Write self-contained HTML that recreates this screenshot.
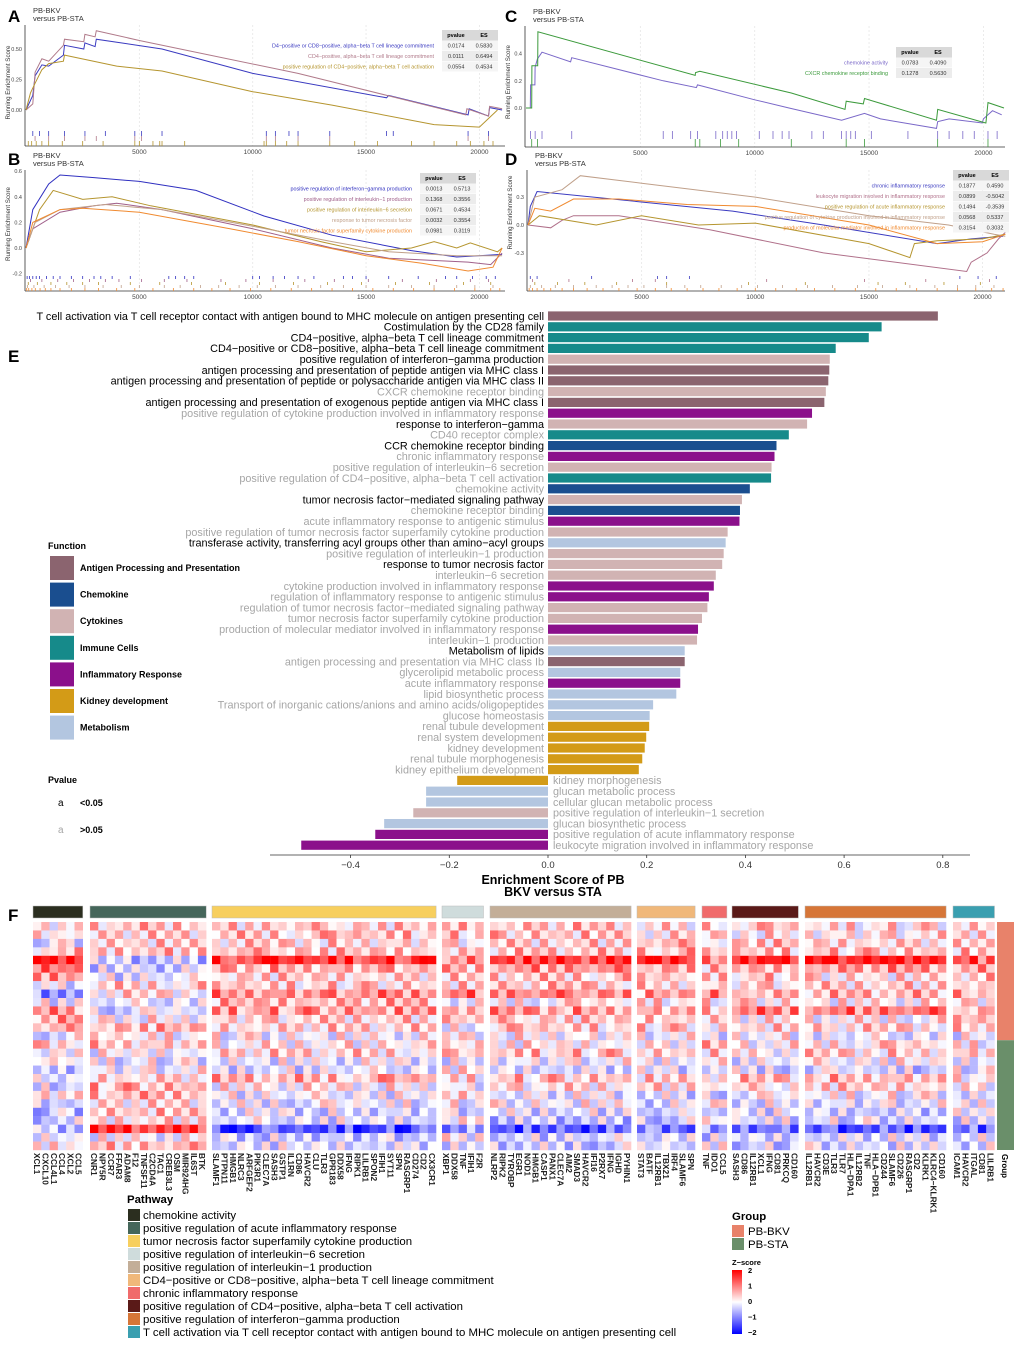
<!DOCTYPE html>
<html><head><meta charset="utf-8">
<style>
html,body{margin:0;padding:0;background:#fff;}
svg{display:block;font-family:"Liberation Sans",sans-serif;}
</style></head>
<body>
<svg id="fig" width="1020" height="1345" viewBox="0 0 1020 1345" xmlns="http://www.w3.org/2000/svg">
<defs>
<linearGradient id="zgrad" x1="0" y1="1" x2="0" y2="0">
<stop offset="0" stop-color="#0000ff"/><stop offset="0.5" stop-color="#ffffff"/><stop offset="1" stop-color="#ff0000"/>
</linearGradient>
</defs>
</svg>
<script>
// ---------- Panel E data ----------
const termLabels = ["T cell activation via T cell receptor contact with antigen bound to MHC molecule on antigen presenting cell","Costimulation by the CD28 family","CD4\u2212positive, alpha\u2212beta T cell lineage commitment","CD4\u2212positive or CD8\u2212positive, alpha\u2212beta T cell lineage commitment","positive regulation of interferon\u2212gamma production","antigen processing and presentation of peptide antigen via MHC class I","antigen processing and presentation of peptide or polysaccharide antigen via MHC class II","CXCR chemokine receptor binding","antigen processing and presentation of exogenous peptide antigen via MHC class I","positive regulation of cytokine production involved in inflammatory response","response to interferon\u2212gamma","CD40 receptor complex","CCR chemokine receptor binding","chronic inflammatory response","positive regulation of interleukin\u22126 secretion","positive regulation of CD4\u2212positive, alpha\u2212beta T cell activation","chemokine activity","tumor necrosis factor\u2212mediated signaling pathway","chemokine receptor binding","acute inflammatory response to antigenic stimulus","positive regulation of tumor necrosis factor superfamily cytokine production","transferase activity, transferring acyl groups other than amino\u2212acyl groups","positive regulation of interleukin\u22121 production","response to tumor necrosis factor","interleukin\u22126 secretion","cytokine production involved in inflammatory response","regulation of inflammatory response to antigenic stimulus","regulation of tumor necrosis factor\u2212mediated signaling pathway","tumor necrosis factor superfamily cytokine production","production of molecular mediator involved in inflammatory response","interleukin\u22121 production","Metabolism of lipids","antigen processing and presentation via MHC class Ib","glycerolipid metabolic process","acute inflammatory response","lipid biosynthetic process","Transport of inorganic cations/anions and amino acids/oligopeptides","glucose homeostasis","renal tubule development","renal system development","kidney development","renal tubule morphogenesis","kidney epithelium development","kidney morphogenesis","glucan metabolic process","cellular glucan metabolic process","positive regulation of interleukin\u22121 secretion","glucan biosynthetic process","positive regulation of acute inflammatory response","leukocyte migration involved in inflammatory response"];
const termES = [0.79,0.676,0.65,0.583,0.571,0.57,0.568,0.563,0.56,0.535,0.525,0.488,0.463,0.459,0.453,0.452,0.409,0.393,0.389,0.388,0.364,0.36,0.356,0.353,0.34,0.336,0.326,0.323,0.312,0.304,0.302,0.277,0.277,0.268,0.268,0.26,0.213,0.206,0.205,0.199,0.196,0.191,0.184,-0.184,-0.247,-0.247,-0.273,-0.332,-0.35,-0.5];
const termFunc = [0,3,3,3,2,0,0,2,0,4,2,3,1,4,2,3,1,2,1,4,2,6,2,2,2,4,4,2,2,4,2,6,0,6,4,6,6,6,5,5,5,5,5,5,6,6,2,6,4,4];
const termSig = [1,1,1,1,1,1,1,0,1,0,1,0,1,0,0,0,0,1,0,0,0,1,0,1,0,0,0,0,0,0,0,1,0,0,0,0,0,0,0,0,0,0,0,0,0,0,0,0,0,0];
const funcNames = ["Antigen Processing and Presentation","Chemokine","Cytokines","Immune Cells","Inflammatory Response","Kidney development","Metabolism"];
const funcColors = ["#8b646f","#1a4e8f","#d1b3b3","#168a8a","#8b108b","#d39b17","#b3c6e0"];
const esTicks = [-0.4,-0.2,0.0,0.2,0.4,0.6,0.8];

// ---------- Panel F data ----------
const pathNames = ["chemokine activity","positive regulation of acute inflammatory response","tumor necrosis factor superfamily cytokine production","positive regulation of interleukin\u22126 secretion","positive regulation of interleukin\u22121 production","CD4\u2212positive or CD8\u2212positive, alpha\u2212beta T cell lineage commitment","chronic inflammatory response","positive regulation of CD4\u2212positive, alpha\u2212beta T cell activation","positive regulation of interferon\u2212gamma production","T cell activation via T cell receptor contact with antigen bound to MHC molecule on antigen presenting cell"];
const pathColors = ["#2b2e1f","#45665a","#f7cf5e","#cfdcdc","#c3ae98","#f0b87a","#f06b6b","#5a1a18","#d67638","#3a9fb0"];
const geneGroups = [
 ["XCL1","CXCL10","CCL4L1","CCL4","XCL2","CCL5"],
 ["CNR1","NPY5R","CCR7","FFAR3","ADAM8","F12","TNFSF11","C2CD4A","TAC1","CREB3L3","OSM","MIR924HG","IL6ST","BTK"],
 ["SLAMF1","PTPN11","HMGB1","NLRC3","ARFGEF2","PIK3R1","CLEC7A","SASH3","GSTP1","IL1RN","CD86","HAVCR2","CLU","TLR3","GPR183","DDX58","IFNG","RIPK1","LILRB1","SPON2","IFIH1","SYT11","SPN","RASGRP1","CD274","CD2","CX3CR1"],
 ["XBP1","DDX58","TNF","IFIH1","F2R"],
 ["NLRP2","RIPK2","TYROBP","EGR1","NOD1","HMGB1","CASP1","PANX1","CLEC7A","AIM2","SMAD3","HAVCR2","IFI16","P2RX7","IFNG","IGHD","PYHIN1"],
 ["STAT3","BATF","IL12RB1","TBX21","IRF4","SLAMF6","SPN"],
 ["TNF","IDO1","CCL5"],
 ["SASH3","CD86","IL12RB1","XCL1","IFNG","CD81","PRKCQ","CD160"],
 ["IL12RB1","HAVCR2","CD3E","TLR3","TLR7","HLA\u2212DPA1","IL12RB2","TNF","HLA\u2212DPB1","CD244","SLAMF6","CD226","RASGRP1","CD2","KLRK1","KLRC4\u2212KLRK1","CD160"],
 ["ICAM1","HAVCR2","ITGAL","CD81","LILRB1"]];
const rowGroupZ = [
 [.1,.3,.2,.4,.3,.1,.3,.2,.1,.2],[.1,.2,.3,.3,.3,.1,.1,.1,.1,.2],[-.2,.2,.2,.1,.2,.3,.1,.3,.2,.1],
 [.3,.3,.3,.2,.3,.4,.2,.3,.3,.3],[1.6,-.5,1.3,.8,1.3,1.6,.6,1.6,1.6,1.0],[.9,-.4,.5,.4,.6,.5,.3,.4,.6,.5],
 [.7,-.3,.2,.2,.3,.2,.2,.3,.1,.3],[-.2,.2,.2,.2,.3,.2,.1,.2,.2,.2],[-1.0,.1,.7,.8,.7,.5,.8,.4,.4,.6],
 [-.2,-.3,.4,-.2,0,.1,.1,.1,0,.1],[.6,-.3,.6,.6,.6,.5,.4,.8,.8,.4],[.5,0,.2,.3,.2,.3,.2,0,0,.3],
 [.3,.4,.2,0,.2,.2,0,.2,.2,.2],[-.2,0,-.1,0,0,-.1,-.2,-.1,-.3,-.2],[.3,.3,0,.2,0,0,.3,0,.1,0],
 [-.1,-.1,.2,.1,.3,.2,.2,0,.2,.3],[0,-.2,-.2,-.2,-.1,-.1,-.1,-.2,-.1,-.2],[-.4,-.1,-.3,0,-.3,-.3,-.2,-.3,-.4,-.2],
 [-.4,.2,.4,.1,.3,.2,.2,.3,.4,.1],[-.3,.4,0,-.1,.1,.1,.1,0,.2,0],[.2,.4,-.2,.2,-.2,-.3,-.3,-.2,-.1,-.3],
 [-.4,.1,-.2,-.1,-.1,-.3,0,-.2,-.2,-.1],[-.5,.3,-.3,-.3,-.3,-.5,-.3,-.3,-.4,-.3],[-.4,.1,-.3,0,-.5,-.4,-.1,-.3,-.3,-.3],
 [-.5,1.3,-1.4,-.8,-1.3,-1.0,-1.0,-1.0,-1.3,-1.2],[-.2,-.1,-.4,-.1,-.4,-.3,-.4,-.4,-.3,-.3],[.1,.3,-.3,-.4,-.4,-.4,-.2,-.4,-.3,-.3]];
const cellTexture = "46372518462935174283615942738164537291846372519483627154938261745392816473529183647251938462751394862735149628374165927384615293748162539471";
const sampleGroups = ["PB-BKV","PB-STA"];
const sampleGroupRows = [14,13];

// ---------- GSEA data ----------
const gA = {ranks:[[0,300,400,700,1000,1650,1700,2550,2600,3050,3100,6000,10000,15900,16000,19500,19550,20400,20450,21000],[0,300,400,700,1000,1650,1700,2550,2600,3050,3100,5000,12000,19400,19450,20400,20450,21000],[0,200,400,700,1000,1650,1700,4000,6000,10000,13500,18000,20000,20800]],
 es:[[0,0.12,0.28,0.37,0.36,0.45,0.53,0.5,0.55,0.52,0.58,0.5,0.3,0.1,0.12,-0.04,0.01,-0.05,0.02,0.0],[0,0.05,0.31,0.42,0.4,0.53,0.58,0.56,0.62,0.6,0.65,0.57,0.3,-0.04,0.01,-0.05,0.03,0.01],[0,0.14,0.22,0.33,0.38,0.4,0.45,0.36,0.32,0.15,0.04,-0.12,-0.14,0.0]],
 hits:[[300,600,1000,1700,2600,3500,4800,5100,6000,10600,11000,11600,12000,13400,15900,16200,19500,20400],[400,1000,1700,2600,3100,4800,5100,10600,11000,12000,13400,19500,20400],[100,250,450,700,1000,1600,2500,3400,4800,5000,5600,5900,6000,7000,10500,10600,11000,11500,12000,13400,14500,15500,17000,18000,19000,19600,20200,20600]]};
const gB = {ranks:[[0,300,1000,1500,3000,5000,7500,10500,13500,17000,19000,21000],[0,300,1500,3000,4000,6000,10000,13500,16000,19500,20500,21000],[0,600,1200,2500,3800,5500,10000,13000,15000,17000,18000,19000,19600,20800,21000],[0,400,1500,3500,6000,10000,13500,16000,19000,21000],[0,300,1500,2500,5000,9000,12000,15000,17500,19500,20600,21000]],
 es:[[0,0.3,0.5,0.57,0.55,0.52,0.45,0.25,0.1,-0.02,-0.07,-0.05],[0,0.15,0.28,0.33,0.35,0.3,0.15,0,-0.08,-0.11,-0.13,-0.04],[0,0.3,0.45,0.38,0.4,0.33,0.18,0.05,-0.03,0,0.05,0,0.04,-0.03,0],[0,0.2,0.3,0.34,0.3,0.17,0.05,-0.03,-0.06,-0.06],[0,0.2,0.3,0.31,0.28,0.15,0.05,-0.06,-0.12,-0.18,-0.15,0]],
 hits:[[50,150,300,450,600,900,1200,1500,2000,2500,3000,3300,3800,4600,6300,6600,7000,7400,10000,10300,10900,11400,12000,12700,14000,14400,15000,16000,17300,18500,19000,19700,20300,20700],[200,700,1400,2100,2800,3500,4100,5100,6100,7100,8600,9700,10900,12300,13600,15100,16600,18100,19600,20400],[100,500,1100,1800,2500,3200,4600,5900,7300,8800,10300,11800,13300,14800,16300,17800,19300,20500],[60,350,800,1300,1900,2600,3400,4200,5000,6100,6800,7700,8500,9400,10200,11000,12000,13000,14000,15000,16000,17000,18000,19000,19800,20600],[30,120,260,410,620,850,1100,1500,2000,2600,3200,4000,4800,5600,6500,7400,8200,9000,9900,10800,11700,12600,13500,14400,15300,16200,17100,18000,18900,19800,20500,20900]]};
const gC = {ranks:[[0,190,200,300,390,400,500,700,1950,2000,6000,7450,7500,10000,11500,13800,14800,15500,17950,18000,18500,19950,20000,20200,20400,20800],[0,250,260,500,510,520,7400,7410,7600,11600,13950,14000,14750,14800,17950,18000,20100,20110,20200,20900]],
 es:[[0,0,0.17,0.17,0.17,0.3,0.36,0.41,0.34,0.37,0.2,0.15,0.17,0.06,0,-0.09,-0.04,-0.08,-0.15,-0.1,-0.08,-0.11,-0.08,-0.05,-0.02,-0.05],[0,0,0.31,0.31,0.31,0.56,0.24,0.26,0.27,0.11,-0.01,0.05,0.03,0.07,-0.09,-0.01,-0.11,-0.11,0.04,0.0]],
 hits:[[200,400,700,2000,6000,6400,7200,7500,8300,8600,8800,9000,9200,10200,10800,11200,11500,12500,13000,13800,14000,14200,14400,15100,16700,18000,18500,19100,19600,20200,20600],[250,500,7400,7600,8500,9300,11600,14000,14800,18000,20200]]};
const gD = {ranks:[[0,100,400,9000,13000,18000,19500,20900],[0,1000,1500,2000,4000,8000,13000,19300,19500,20200,20700,21000],[0,500,3000,5000,7500,10000,15000,16800,17000,18000,20000,21000],[0,300,1500,2300,5000,10000,15000,18500,20500,21000],[0,300,1000,2000,4000,7000,10000,15000,18000,20000,21000]],
 es:[[0,0.2,0.36,0.15,0,-0.2,-0.15,-0.12],[0,-0.03,0.05,0.1,0.1,-0.05,-0.3,-0.5,-0.4,-0.3,-0.15,-0.08],[0,0.1,0,0.1,0,0.02,-0.2,-0.35,-0.2,-0.17,-0.15,-0.1],[0,0.3,0.38,0.53,0.45,0.3,0.1,0,-0.1,-0.12],[0,0.18,0.15,0.28,0.28,0.22,0.2,0,-0.2,-0.18,-0.1]],
 hits:[[100,400,2800,5700,6100,7100,19000,19800,20600],[200,1800,4600,5600,10500,14800,17500,20300],[300,1300,2500,3900,6100,9700,12200,15400,16600,18300,19900],[100,600,1200,2000,3000,3700,4400,5100,6100,6900,7600,8500,9400,10100,11200,12300,13400,14500,15600,16800,17900,18900,19700,20500],[50,200,400,700,1000,1500,2000,2600,3300,4000,4800,5600,6300,7000,7700,8400,9200,10000,10900,11800,12600,13500,14400,15300,16200,17100,18000,18900,19700,20400,20900]]};

// ---------- helpers ----------
const NS = "http://www.w3.org/2000/svg";
const svg = document.getElementById("fig");
function mk(tag, attrs, parent) {
  const e = document.createElementNS(NS, tag);
  for (const k in attrs) e.setAttribute(k, attrs[k]);
  (parent || svg).appendChild(e);
  return e;
}
function nm(e, name, inter) {
  
  
  return e;
}
function txt(x, y, s, attrs, parent) {
  const e = mk("text", Object.assign({x: x, y: y}, attrs || {}), parent);
  e.textContent = s;
  return e;
}

// ---------- panel letters ----------
[["A",8,22],["B",8,165],["C",505,22],["D",505,165],["E",8,362],["F",8,921]].forEach(p => {
  const t = txt(p[1], p[2], p[0], {"font-size": 17, "font-weight": "bold"});
  nm(t, "panel-label-" + p[0].toLowerCase(), false);
});

// ---------- GSEA panels ----------
function gsea(id, cfg, data) {
  const g = nm(mk("g", {}), "gsea-panel-" + id, false);
  const X = r => cfg.x0 + r * cfg.kx;
  const Y = v => cfg.y0 - v * cfg.ky;
  nm(txt(cfg.left + 8, cfg.top - 12, "PB-BKV", {"font-size": 7.5, fill: "#333"}, g), "panel-subtitle", false);
  nm(txt(cfg.left + 8, cfg.top - 4, "versus PB-STA", {"font-size": 7.5, fill: "#333"}, g), "panel-subtitle", false);
  [5000, 10000, 15000, 20000].forEach(t => {
    nm(mk("line", {x1: X(t), x2: X(t), y1: cfg.top, y2: cfg.bottom, stroke: "#e6e6e6", "stroke-width": 0.8, "stroke-dasharray": "2,2"}, g), "x-gridline", false);
    nm(txt(X(t), cfg.bottom + 8, String(t), {"font-size": 6.5, "text-anchor": "middle", fill: "#444"}, g), "x-tick-label", false);
  });
  nm(mk("line", {x1: cfg.left, x2: cfg.left, y1: cfg.top, y2: cfg.bottom, stroke: "#333", "stroke-width": 0.8}, g), "y-axis-line", false);
  nm(mk("line", {x1: cfg.left, x2: cfg.right, y1: cfg.bottom, y2: cfg.bottom, stroke: "#333", "stroke-width": 0.8}, g), "x-axis-line", false);
  cfg.yticks.forEach(t => {
    nm(txt(cfg.left - 3, Y(t) + 2, t.toFixed(cfg.dec), {"font-size": 5.5, "text-anchor": "end", fill: "#444"}, g), "y-tick-label", false);
  });
  const yl = txt(0, 0, "Running Enrichment Score", {"font-size": 6.2, "text-anchor": "middle", fill: "#333", transform: "translate(" + (cfg.left - 15) + "," + ((cfg.top + cfg.y0 + 30) / 2) + ") rotate(-90)"}, g);
  nm(yl, "y-axis-title", false);
  data.ranks.forEach((rs, i) => {
    let d = "";
    rs.forEach((r, j) => {
      d += (j ? "L" : "M") + X(r).toFixed(1) + "," + Y(data.es[i][j]).toFixed(1);
    });
    nm(mk("path", {d: d, fill: "none", stroke: cfg.colors[i], "stroke-width": 1}, g), "es-line-" + (i + 1), false);
  });
  const n = data.hits.length;
  const rh = (cfg.bottom - cfg.rugTop) / n;
  data.hits.forEach((hs, i) => {
    hs.forEach(h => {
      nm(mk("line", {x1: X(h), x2: X(h), y1: cfg.rugTop + i * rh, y2: cfg.rugTop + (i + 1) * rh, stroke: cfg.colors[i], "stroke-width": 0.8}, g), "hit-tick", false);
    });
  });
  const tx = cfg.tableX, lh = cfg.lh;
  nm(mk("rect", {x: tx, y: cfg.tableY - 7, width: 56, height: lh, fill: "#d9d9d9"}, g), "table-header", false);
  nm(txt(tx + 14, cfg.tableY, "pvalue", {"font-size": 5.5, "font-weight": "bold", "text-anchor": "middle"}, g), "table-header-pvalue", false);
  nm(txt(tx + 42, cfg.tableY, "ES", {"font-size": 5.5, "font-weight": "bold", "text-anchor": "middle"}, g), "table-header-es", false);
  cfg.names.forEach((s, i) => {
    const yy = cfg.tableY + (i + 1) * lh;
    nm(mk("rect", {x: tx, y: yy - 7, width: 56, height: lh - 0.5, fill: i % 2 ? "#ececec" : "#f5f5f5"}, g), "table-row", false);
    nm(txt(tx + 14, yy, cfg.pv[i], {"font-size": 5.5, "text-anchor": "middle", fill: "#333"}, g), "table-pvalue", false);
    nm(txt(tx + 42, yy, cfg.esv[i], {"font-size": 5.5, "text-anchor": "middle", fill: "#333"}, g), "table-es", false);
    nm(txt(tx - 8, yy, s, {"font-size": 5.4, "text-anchor": "end", fill: cfg.colors[i]}, g), "series-legend-label", false);
  });
}
gsea("a", {x0: 26, kx: 0.02267, y0: 110, ky: 122, left: 25, right: 505, top: 25, bottom: 146, rugTop: 131, yticks: [0, 0.25, 0.5], dec: 2,
  colors: ["#3a3ac0", "#b07a8a", "#b5952f"], tableX: 442, tableY: 37, lh: 10.5,
  names: ["D4\u2212positive or CD8\u2212positive, alpha\u2212beta T cell lineage commitment", "CD4\u2212positive, alpha\u2212beta T cell lineage commitment", "positive regulation of CD4\u2212positive, alpha\u2212beta T cell activation"],
  pv: ["0.0174", "0.0111", "0.0554"], esv: ["0.5830", "0.6494", "0.4534"]}, gA);
gsea("b", {x0: 26, kx: 0.02267, y0: 248, ky: 128, left: 25, right: 505, top: 170, bottom: 291, rugTop: 276, yticks: [-0.2, 0, 0.2, 0.4, 0.6], dec: 1,
  colors: ["#3030c0", "#a0608a", "#b5952f", "#c0a08a", "#f08a30"], tableX: 420, tableY: 180, lh: 10.5,
  names: ["positive regulation of interferon\u2212gamma production", "positive regulation of interleukin\u22121 production", "positive regulation of interleukin\u22126 secretion", "response to tumor necrosis factor", "tumor necrosis factor superfamily cytokine production"],
  pv: ["0.0013", "0.1368", "0.0671", "0.0032", "0.0981"], esv: ["0.5713", "0.3556", "0.4534", "0.3554", "0.3119"]}, gB);
gsea("c", {x0: 526, kx: 0.02287, y0: 108, ky: 136, left: 525, right: 1005, top: 26, bottom: 147, rugTop: 131, yticks: [0, 0.2, 0.4], dec: 1,
  colors: ["#7a68c8", "#3c9a3c"], tableX: 896, tableY: 54, lh: 10.5,
  names: ["chemokine activity", "CXCR chemokine receptor binding"],
  pv: ["0.0783", "0.1278"], esv: ["0.4090", "0.5630"]}, gC);
gsea("d", {x0: 528, kx: 0.02273, y0: 225, ky: 93, left: 527, right: 1005, top: 170, bottom: 291, rugTop: 276, yticks: [-0.3, 0, 0.3], dec: 1,
  colors: ["#3a3ac0", "#b0708a", "#b5952f", "#c0a08a", "#f08a30"], tableX: 953, tableY: 177, lh: 10.5,
  names: ["chronic inflammatory response", "leukocyte migration involved in inflammatory response", "positive regulation of acute inflammatory response", "positive regulation of cytokine production involved in inflammatory response", "production of molecular mediator involved in inflammatory response"],
  pv: ["0.1877", "0.0899", "0.1494", "0.0568", "0.3154"], esv: ["0.4590", "-0.5042", "-0.3539", "0.5337", "0.3032"]}, gD);

// ---------- Panel E ----------
(function () {
  const g = nm(mk("g", {}), "enrichment-bar-chart", false);
  const X = v => 548 + v * 493.5;
  const rowY = i => 316 + i * 10.8;
  termLabels.forEach((lab, i) => {
    const v = termES[i];
    const x0 = Math.min(X(0), X(v)), w = Math.abs(X(v) - X(0));
    nm(mk("rect", {x: x0, y: rowY(i) - 4.6, width: w, height: 9.2, fill: funcColors[termFunc[i]]}, g), "bar-" + (i + 1), false);
    const pos = v >= 0;
    nm(txt(pos ? 544 : 553, rowY(i) + 3.8, lab, {"font-size": 10.85, "text-anchor": pos ? "end" : "start", fill: termSig[i] ? "#000" : "#a6a6a6"}, g), "term-label", false);
  });
  nm(mk("line", {x1: 270, x2: 970, y1: 855, y2: 855, stroke: "#333", "stroke-width": 0.8}, g), "x-axis-line", false);
  esTicks.forEach(t => {
    nm(mk("line", {x1: X(t), x2: X(t), y1: 855, y2: 858, stroke: "#333", "stroke-width": 0.8}, g), "x-tick", false);
    nm(txt(X(t), 868, (t < 0 ? "\u2212" + Math.abs(t).toFixed(1) : t.toFixed(1)), {"font-size": 9.5, "text-anchor": "middle", fill: "#333"}, g), "x-tick-label", false);
  });
  nm(txt(553, 884, "Enrichment Score of PB", {"font-size": 12.5, "font-weight": "bold", "text-anchor": "middle"}, g), "x-axis-title", false);
  nm(txt(553, 896, "BKV versus STA", {"font-size": 12.5, "font-weight": "bold", "text-anchor": "middle"}, g), "x-axis-title-line2", false);
  const lg = nm(mk("g", {}), "function-legend", false);
  nm(txt(48, 549, "Function", {"font-size": 9, "font-weight": "bold"}, lg), "legend-title", false);
  funcNames.forEach((f, i) => {
    const y = 556 + i * 26.6;
    nm(mk("rect", {x: 50, y: y, width: 24, height: 24, fill: funcColors[i]}, lg), "legend-swatch", false);
    nm(txt(80, y + 15, f, {"font-size": 9, "font-weight": "bold"}, lg), "legend-entry", false);
  });
  nm(txt(48, 783, "Pvalue", {"font-size": 9, "font-weight": "bold"}, lg), "pvalue-legend-title", false);
  nm(txt(58, 806, "a", {"font-size": 10}, lg), "pvalue-key-sig", false);
  nm(txt(80, 806, "<0.05", {"font-size": 9, "font-weight": "bold"}, lg), "pvalue-label-sig", false);
  nm(txt(58, 833, "a", {"font-size": 10, fill: "#a6a6a6"}, lg), "pvalue-key-nonsig", false);
  nm(txt(80, 833, ">0.05", {"font-size": 9, "font-weight": "bold"}, lg), "pvalue-label-nonsig", false);
})();

// ---------- Panel F heatmap ----------
(function () {
  const g = nm(mk("g", {}), "heatmap", false);
  const groupStart = [33, 90, 212, 442, 490, 637, 702, 732, 805, 953];
  const cw = 8.3, top = 922, nRows = 27, rh = 228 / nRows;
  function zcol(z) {
    z = Math.max(-2, Math.min(2, z));
    const t = Math.abs(z) / 2;
    const c = Math.round(255 * (1 - t));
    return z >= 0 ? "rgb(255," + c + "," + c + ")" : "rgb(" + c + "," + c + ",255)";
  }
  let colIdx = 0;
  geneGroups.forEach((genes, gi) => {
    const x0 = groupStart[gi];
    nm(mk("rect", {x: x0, y: 906, width: genes.length * cw, height: 12, fill: pathColors[gi], stroke: "#bbb", "stroke-width": 0.5}, g), "pathway-annotation-" + (gi + 1), false);
    genes.forEach((gene, ci) => {
      const x = x0 + ci * cw;
      for (let r = 0; r < nRows; r++) {
        const d = +cellTexture[(colIdx * 3 + r * 7) % cellTexture.length];
        const z = rowGroupZ[r][gi] * 1.1 + (d - 4) * 0.17;
        const c = mk("rect", {x: x.toFixed(2), y: (top + r * rh).toFixed(2), width: cw + 0.2, height: rh + 0.2, fill: zcol(z)}, g);
        
        
      }
      const t = txt(0, 0, gene, {"font-size": 8.3, "font-weight": "bold", fill: "#222", transform: "translate(" + (x + cw / 2 - 3) + ",1153) rotate(90)"}, g);
      nm(t, "gene-label", false);
      colIdx++;
    });
  });
  let yy = top;
  sampleGroups.forEach((s, i) => {
    const h = sampleGroupRows[i] * rh;
    nm(mk("rect", {x: 997, y: yy, width: 17, height: h, fill: i ? "#6a8f6a" : "#e8826a"}, g), "group-annotation-" + s.toLowerCase(), false);
    yy += h;
  });
  nm(txt(0, 0, "Group", {"font-size": 8, "font-weight": "bold", transform: "translate(1002,1154) rotate(90)"}, g), "group-annotation-label", false);

  const pl = nm(mk("g", {}), "pathway-legend", false);
  nm(txt(127, 1203, "Pathway", {"font-size": 11.4, "font-weight": "bold"}, pl), "legend-title", false);
  pathNames.forEach((p, i) => {
    const y = 1209 + i * 13;
    nm(mk("rect", {x: 128, y: y, width: 12, height: 12, fill: pathColors[i]}, pl), "legend-swatch", false);
    nm(txt(143, y + 10, p, {"font-size": 11.4}, pl), "legend-entry", false);
  });
  const gl = nm(mk("g", {}), "group-legend", false);
  nm(txt(732, 1220, "Group", {"font-size": 11.4, "font-weight": "bold"}, gl), "legend-title", false);
  sampleGroups.forEach((s, i) => {
    nm(mk("rect", {x: 732, y: 1225 + i * 13, width: 12, height: 12, fill: i ? "#6a8f6a" : "#e8826a"}, gl), "legend-swatch", false);
    nm(txt(748, 1235 + i * 13, s, {"font-size": 11.4}, gl), "legend-entry", false);
  });
  const zl = nm(mk("g", {}), "zscore-legend", false);
  nm(txt(732, 1265, "Z\u2212score", {"font-size": 7.5, "font-weight": "bold"}, zl), "legend-title", false);
  nm(mk("rect", {x: 732, y: 1270, width: 10, height: 64, fill: "url(#zgrad)"}, zl), "zscore-colorbar", false);
  ["2", "1", "0", "\u22121", "\u22122"].forEach((s, i) => {
    nm(txt(748, 1273 + i * 15.5, s, {"font-size": 7.5, "font-weight": "bold"}, zl), "zscore-tick-label", false);
  });
})();
</script>
</body></html>
